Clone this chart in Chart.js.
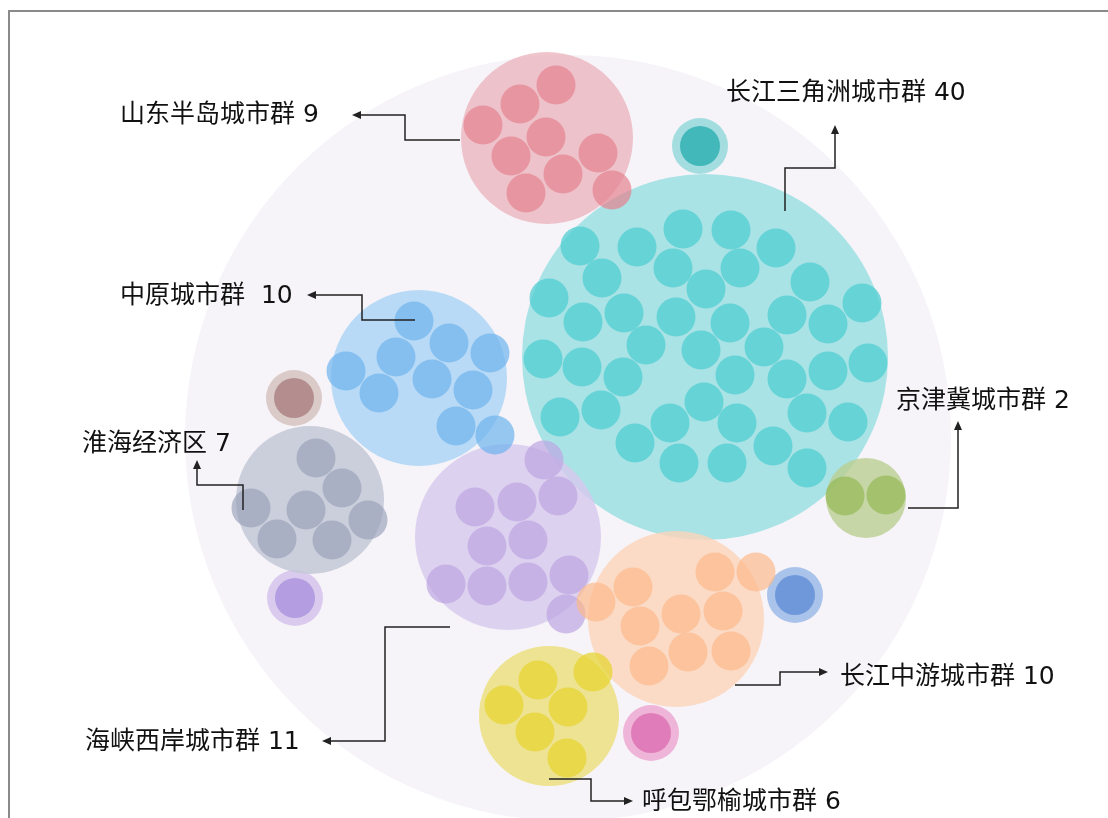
<!DOCTYPE html>
<html>
<head>
<meta charset="utf-8">
<script src="https://cdn.jsdelivr.net/npm/chart.js@4.4.1/dist/chart.umd.min.js"></script>
<style>
    html, body { margin: 0; padding: 0; background: #fff; }
    canvas { display: block; }
</style>
</head>
<body>
<canvas id="bubbleChart" width="1108" height="818"></canvas>
<script>
// 城市群名称和城市数量
const clusterNames = ['山东半岛城市群', '长江三角洲城市群', '中原城市群', '淮海经济区', '京津冀城市群', '长江中游城市群', '海峡西岸城市群', '呼包鄂榆城市群'];
const cityCounts = [9, 40, 10, 7, 2, 10, 11, 6];
const labelGap = [' ', ' ', '  ', ' ', ' ', ' ', ' ', ' '];

// 城市群大圆 (中心, 半径)
const clusterX = [547, 705, 419, 310, 866, 676, 508, 549];
const clusterY = [138, 357, 378, 500, 498, 619, 537, 716];
const clusterR = [86, 183, 88, 74, 40, 88, 93, 70];
const clusterFill = ['rgba(236,180,188,0.78)', 'rgba(150,222,225,0.8)', 'rgba(170,211,245,0.8)', 'rgba(195,199,214,0.85)',
                     'rgba(186,206,145,0.8)', 'rgba(253,212,185,0.8)', 'rgba(215,200,238,0.8)', 'rgba(236,222,120,0.8)'];
const cityFill = ['rgba(228,130,142,0.7)', 'rgba(80,205,208,0.75)', 'rgba(110,180,238,0.7)', 'rgba(150,160,185,0.65)',
                  'rgba(150,185,85,0.7)', 'rgba(252,185,140,0.7)', 'rgba(190,165,225,0.7)', 'rgba(230,212,50,0.75)'];

// 每个城市群里的城市小圆
const shandongCities = [[556, 85], [520, 104], [483, 125], [546, 137], [511, 156], [598, 153], [563, 174], [526, 193], [612, 190]];
const deltaCities = [[683, 229], [731, 230], [580, 246], [637, 247], [776, 248], [673, 268], [740, 268], [602, 278], [706, 289], [810, 282],
                     [549, 298], [583, 322], [624, 313], [676, 317], [730, 323], [787, 315], [828, 324], [862, 303],
                     [646, 345], [701, 350], [764, 347], [543, 359], [582, 367], [623, 377], [735, 375], [787, 379], [828, 371], [868, 363],
                     [704, 402], [560, 417], [601, 410], [670, 423], [737, 423], [807, 413], [848, 422],
                     [635, 443], [679, 463], [727, 463], [773, 446], [807, 468]];
const zhongyuanCities = [[414, 321], [449, 343], [490, 353], [396, 357], [346, 371], [432, 379], [473, 390], [379, 393], [456, 426], [495, 435]];
const huaihaiCities = [[316, 458], [342, 488], [251, 508], [306, 510], [368, 520], [277, 539], [332, 540]];
const jingjinjiCities = [[845, 496], [886, 495]];
const middleCities = [[715, 572], [756, 572], [633, 587], [596, 602], [640, 626], [681, 614], [723, 611], [688, 652], [731, 651], [649, 666]];
const haixiaCities = [[544, 460], [475, 507], [517, 502], [558, 496], [487, 546], [528, 540], [446, 584], [487, 586], [528, 582], [569, 575], [566, 614]];
const hubaoCities = [[538, 680], [593, 672], [504, 705], [568, 707], [535, 732], [567, 758]];
const cityGroups = [shandongCities, deltaCities, zhongyuanCities, huaihaiCities, jingjinjiCities, middleCities, haixiaCities, hubaoCities];

// 装饰小圆
const dotX = [700, 294, 295, 795, 651];
const dotY = [146, 398, 598, 595, 733];
const dotOuter = ['#a3dde0', '#dacac8', '#dacbee', '#aac3ea', '#efb5d9'];
const dotInner = ['#42b8ba', '#b48e8e', '#b49de0', '#6e98d9', '#e07cba'];

// 标签位置 (文字左边, 中线) 和箭头折线
const labelX = [120, 726, 120, 82, 896, 840, 85, 642];
const labelY = [115, 93, 296, 444, 401, 677, 742, 802];
const connectors = [
    [[460, 140], [405, 140], [405, 115], [352, 115]],
    [[785, 211], [785, 168], [835, 168], [835, 125]],
    [[415, 320], [362, 320], [362, 295], [307, 295]],
    [[243, 510], [243, 485], [197, 485], [197, 460]],
    [[908, 508], [958, 508], [958, 421]],
    [[735, 685], [780, 685], [780, 672], [828, 672]],
    [[450, 627], [385, 627], [385, 741], [322, 741]],
    [[549, 779], [591, 779], [591, 801], [633, 801]]
];

const datasets = [];
datasets.push({
    label: 'bg',
    data: [{ x: 568, y: 438, r: 383 }],
    backgroundColor: '#f6f4f9',
    borderWidth: 0,
    order: 100
});
datasets.push({
    label: 'dotOuter',
    data: dotX.map((v, i) => ({ x: v, y: dotY[i], r: 28 })),
    backgroundColor: dotOuter,
    borderWidth: 0,
    order: 60
});
datasets.push({
    label: 'dotInner',
    data: dotX.map((v, i) => ({ x: v, y: dotY[i], r: 20 })),
    backgroundColor: dotInner,
    borderWidth: 0,
    order: 59
});
datasets.push({
    label: 'clusters',
    data: clusterX.map((v, i) => ({ x: v, y: clusterY[i], r: clusterR[i] })),
    backgroundColor: clusterFill,
    borderWidth: 0,
    order: 50
});
cityGroups.forEach((group, i) => {
    datasets.push({
        label: clusterNames[i],
        data: group.map(p => ({ x: p[0], y: p[1], r: 19.5 })),
        backgroundColor: cityFill[i],
        borderWidth: 0,
        order: 10
    });
});

const labelPlugin = {
    id: 'clusterLabels',
    afterDatasetsDraw(chart) {
        const { ctx, scales: { x, y } } = chart;
        ctx.save();
        // 外框
        ctx.strokeStyle = '#8a8a8a';
        ctx.lineWidth = 2;
        ctx.strokeRect(9, 11, 1300, 1000);

        ctx.strokeStyle = '#222';
        ctx.fillStyle = '#222';
        ctx.lineWidth = 1.5;
        connectors.forEach(path => {
            const pts = path.map(p => [x.getPixelForValue(p[0]), y.getPixelForValue(p[1])]);
            const n = pts.length;
            const tip = pts[n - 1], prev = pts[n - 2];
            const ang = Math.atan2(tip[1] - prev[1], tip[0] - prev[0]);
            const headLen = 9, headW = 4;
            const base = [tip[0] - Math.cos(ang) * headLen, tip[1] - Math.sin(ang) * headLen];
            ctx.beginPath();
            ctx.moveTo(pts[0][0], pts[0][1]);
            for (let k = 1; k < n - 1; k++) ctx.lineTo(pts[k][0], pts[k][1]);
            ctx.lineTo(base[0], base[1]);
            ctx.stroke();
            ctx.beginPath();
            ctx.moveTo(tip[0], tip[1]);
            ctx.lineTo(base[0] - Math.sin(ang) * headW, base[1] + Math.cos(ang) * headW);
            ctx.lineTo(base[0] + Math.sin(ang) * headW, base[1] - Math.cos(ang) * headW);
            ctx.closePath();
            ctx.fill();
        });

        ctx.fillStyle = '#111';
        ctx.font = '25px "DejaVu Sans", "Noto Sans CJK SC", sans-serif';
        ctx.textBaseline = 'middle';
        ctx.textAlign = 'left';
        clusterNames.forEach((name, i) => {
            ctx.fillText(name + labelGap[i] + cityCounts[i], x.getPixelForValue(labelX[i]), y.getPixelForValue(labelY[i]));
        });
        ctx.restore();
    }
};

new Chart(document.getElementById('bubbleChart'), {
    type: 'bubble',
    data: { datasets: datasets },
    options: {
        responsive: false,
        animation: false,
        events: [],
        clip: false,
        layout: { padding: 0, autoPadding: false },
        plugins: { legend: { display: false }, tooltip: { enabled: false } },
        scales: {
            x: { type: 'linear', min: 0, max: 1108, display: false },
            y: { type: 'linear', min: 0, max: 818, reverse: true, display: false }
        }
    },
    plugins: [labelPlugin]
});
</script>
</body>
</html>
